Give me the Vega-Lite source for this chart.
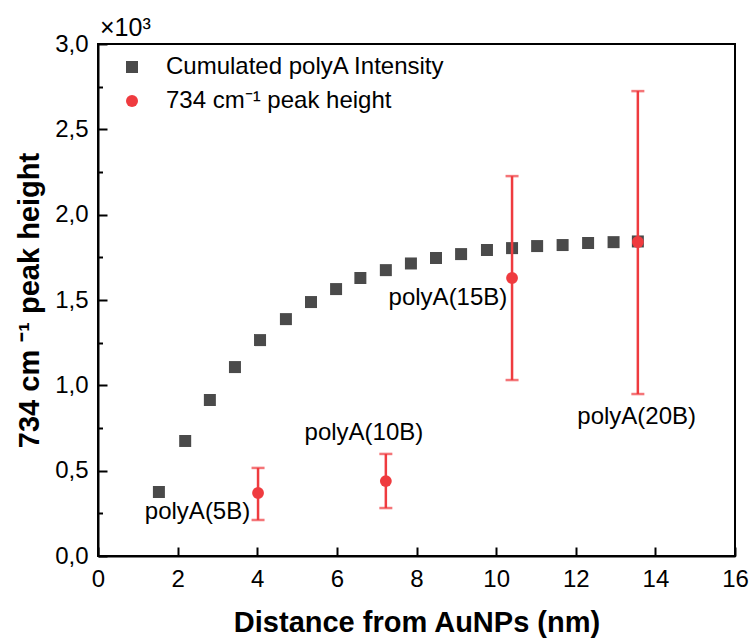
{
  "$schema": "https://vega.github.io/schema/vega-lite/v6.json",
  "width": 637,
  "height": 512,
  "autosize": "none",
  "padding": {"left": 98, "top": 44, "right": 14, "bottom": 82},
  "background": "white",
  "config": {
    "font": "Liberation Sans",
    "view": {"stroke": "#000", "strokeWidth": 2},
    "axis": {
      "domainColor": "#000", "domainWidth": 2,
      "tickColor": "#000", "tickWidth": 2,
      "labelFont": "Liberation Sans", "labelFontSize": 24, "labelColor": "#000",
      "titleFont": "Liberation Sans", "titleFontSize": 29, "titleFontWeight": "bold", "titleColor": "#000",
      "grid": false
    }
  },
  "datasets": {
    "cum": [
      {"d": 1.53, "v": 375, "series": "Cumulated polyA Intensity"},
      {"d": 2.19, "v": 674, "series": "Cumulated polyA Intensity"},
      {"d": 2.81, "v": 914, "series": "Cumulated polyA Intensity"},
      {"d": 3.44, "v": 1107, "series": "Cumulated polyA Intensity"},
      {"d": 4.07, "v": 1265, "series": "Cumulated polyA Intensity"},
      {"d": 4.72, "v": 1388, "series": "Cumulated polyA Intensity"},
      {"d": 5.35, "v": 1488, "series": "Cumulated polyA Intensity"},
      {"d": 5.98, "v": 1564, "series": "Cumulated polyA Intensity"},
      {"d": 6.59, "v": 1629, "series": "Cumulated polyA Intensity"},
      {"d": 7.23, "v": 1675, "series": "Cumulated polyA Intensity"},
      {"d": 7.86, "v": 1714, "series": "Cumulated polyA Intensity"},
      {"d": 8.49, "v": 1746, "series": "Cumulated polyA Intensity"},
      {"d": 9.12, "v": 1769, "series": "Cumulated polyA Intensity"},
      {"d": 9.77, "v": 1793, "series": "Cumulated polyA Intensity"},
      {"d": 10.40, "v": 1804, "series": "Cumulated polyA Intensity"},
      {"d": 11.03, "v": 1816, "series": "Cumulated polyA Intensity"},
      {"d": 11.67, "v": 1822, "series": "Cumulated polyA Intensity"},
      {"d": 12.31, "v": 1834, "series": "Cumulated polyA Intensity"},
      {"d": 12.95, "v": 1839, "series": "Cumulated polyA Intensity"},
      {"d": 13.56, "v": 1843, "series": "Cumulated polyA Intensity"}
    ],
    "peak": [
      {"d": 4.02, "v": 369, "lo": 211, "hi": 516, "series": "734 cm⁻¹ peak height", "name": "polyA(5B)", "lx": 2.5, "ly": 258},
      {"d": 7.23, "v": 439, "lo": 281, "hi": 598, "series": "734 cm⁻¹ peak height", "name": "polyA(10B)", "lx": 6.68, "ly": 720},
      {"d": 10.40, "v": 1629, "lo": 1031, "hi": 2226, "series": "734 cm⁻¹ peak height", "name": "polyA(15B)", "lx": 8.79, "ly": 1511},
      {"d": 13.56, "v": 1840, "lo": 949, "hi": 2724, "series": "734 cm⁻¹ peak height", "name": "polyA(20B)", "lx": 13.53, "ly": 814}
    ]
  },
  "layer": [
    {
      "data": {"name": "cum"},
      "mark": {"type": "point", "shape": "square", "filled": true, "size": 144, "opacity": 1},
      "encoding": {
        "x": {
          "field": "d", "type": "quantitative",
          "scale": {"domain": [0, 16], "nice": false, "zero": false},
          "axis": {
            "title": "Distance from AuNPs (nm)",
            "values": [0,1,2,3,4,5,6,7,8,9,10,11,12,13,14,15,16],
            "labelExpr": "datum.value % 2 == 0 ? datum.label : ''",
            "tickSize": {"condition": {"test": "datum.value % 2 == 1", "value": -4.5}, "value": -9},
            "labelPadding": 20,
            "labelFlush": false,
            "labelOverlap": false,
            "titlePadding": 17
          }
        },
        "y": {
          "field": "v", "type": "quantitative",
          "scale": {"domain": [0, 3000], "nice": false},
          "axis": {
            "title": "734 cm ⁻¹ peak height",
            "values": [0,250,500,750,1000,1250,1500,1750,2000,2250,2500,2750,3000],
            "labelExpr": "datum.value % 500 == 0 ? replace(format(datum.value/1000, '.1f'), '.', ',') : ''",
            "tickSize": {"condition": {"test": "datum.value % 500 != 0", "value": -4.5}, "value": -9},
            "labelPadding": 19,
            "labelFlush": false,
            "labelOverlap": false,
            "titlePadding": 10
          }
        },
        "color": {
          "field": "series", "type": "nominal",
          "scale": {"domain": ["Cumulated polyA Intensity", "734 cm⁻¹ peak height"], "range": ["#4a4a4a", "#ef3b3f"]},
          "legend": {
            "title": null, "orient": "none", "legendX": 22, "legendY": 11,
            "labelFontSize": 24, "labelFont": "Liberation Sans", "labelColor": "#000",
            "symbolSize": 144, "rowPadding": 10, "labelOffset": 22, "symbolStrokeWidth": 0,
            "labelLimit": 500
          }
        },
        "shape": {
          "field": "series", "type": "nominal",
          "scale": {"domain": ["Cumulated polyA Intensity", "734 cm⁻¹ peak height"], "range": ["square", "circle"]},
          "legend": null
        }
      }
    },
    {
      "data": {"name": "peak"},
      "mark": {"type": "rule", "color": "#ef3b3f", "strokeWidth": 2.5},
      "encoding": {
        "x": {"field": "d", "type": "quantitative"},
        "y": {"field": "lo", "type": "quantitative"},
        "y2": {"field": "hi"}
      }
    },
    {
      "data": {"name": "peak"},
      "mark": {"type": "tick", "orient": "horizontal", "color": "#ef3b3f", "size": 13, "thickness": 2.5},
      "encoding": {
        "x": {"field": "d", "type": "quantitative"},
        "y": {"field": "lo", "type": "quantitative"}
      }
    },
    {
      "data": {"name": "peak"},
      "mark": {"type": "tick", "orient": "horizontal", "color": "#ef3b3f", "size": 13, "thickness": 2.5},
      "encoding": {
        "x": {"field": "d", "type": "quantitative"},
        "y": {"field": "hi", "type": "quantitative"}
      }
    },
    {
      "data": {"name": "peak"},
      "mark": {"type": "point", "filled": true, "size": 140, "opacity": 1},
      "encoding": {
        "x": {"field": "d", "type": "quantitative"},
        "y": {"field": "v", "type": "quantitative"},
        "color": {"field": "series", "type": "nominal"},
        "shape": {"field": "series", "type": "nominal"}
      }
    },
    {
      "data": {"name": "peak"},
      "mark": {"type": "text", "fontSize": 24, "font": "Liberation Sans", "color": "#000", "align": "center", "baseline": "middle"},
      "encoding": {
        "x": {"field": "lx", "type": "quantitative"},
        "y": {"field": "ly", "type": "quantitative"},
        "text": {"field": "name"}
      }
    },
    {
      "data": {"values": [{}]},
      "mark": {"type": "text", "text": "×10³", "fontSize": 25, "font": "Liberation Sans", "color": "#000", "align": "left", "baseline": "alphabetic", "dx": 2, "dy": -8},
      "encoding": {
        "x": {"datum": 0, "type": "quantitative"},
        "y": {"datum": 3000, "type": "quantitative"}
      }
    }
  ]
}
